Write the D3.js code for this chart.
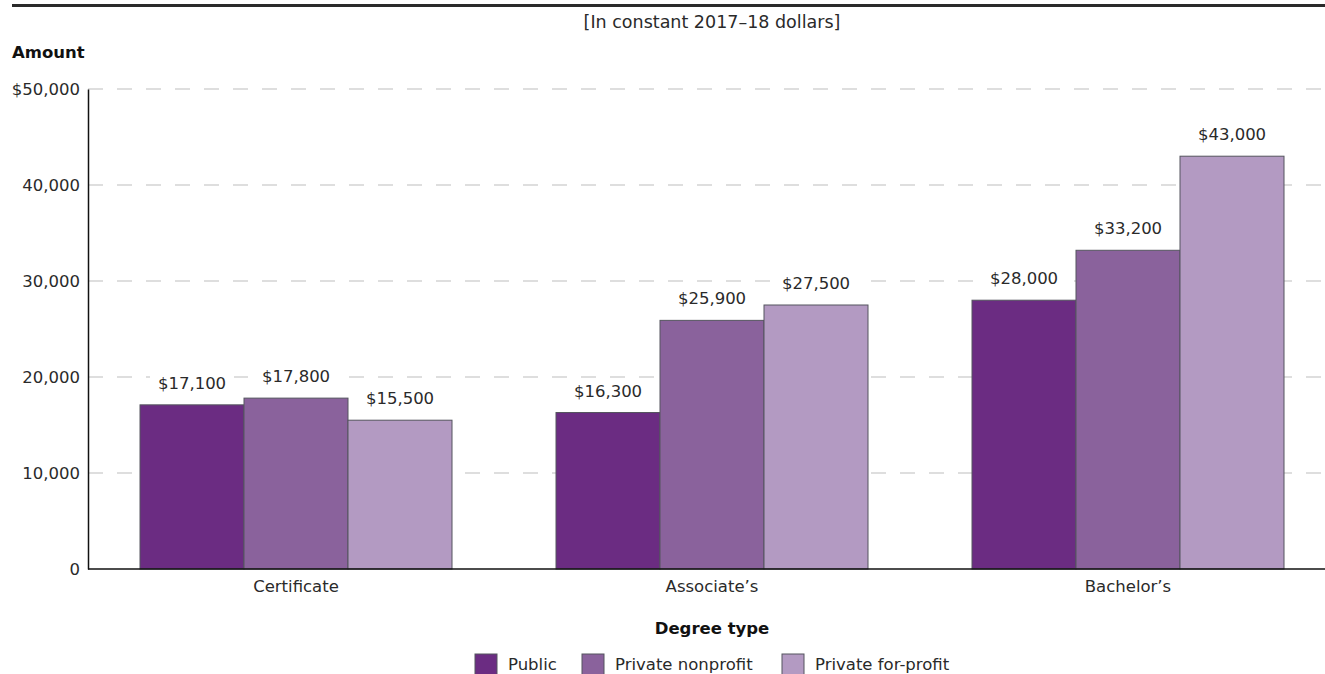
<!DOCTYPE html>
<html>
<head>
<meta charset="utf-8">
<script src="https://cdn.jsdelivr.net/npm/d3@7"></script>
<style>
  body { margin: 0; background: #fff; }
  svg { display: block; font-family: "DejaVu Sans", sans-serif; }
</style>
</head>
<body>
<svg id="chart"></svg>
<script>
// Chart data
const degreeTypes = ["Certificate", "Associate\u2019s", "Bachelor\u2019s"];
const sectors = ["Public", "Private nonprofit", "Private for-profit"];
const publicValues = [17100, 16300, 28000];
const nonprofitValues = [17800, 25900, 33200];
const forprofitValues = [15500, 27500, 43000];
const yTicks = [0, 10000, 20000, 30000, 40000, 50000];

const width = 1325, height = 674;
const colors = ["#6b2c82", "#8a629c", "#b39ac2"];
const textColor = "#2a2a2a";
const fontSize = 16.5;

const svg = d3.select("#chart")
    .attr("width", width)
    .attr("height", height);

// Plot area
const plotLeft = 88, plotBottom = 569, plotTop = 89;

const x = d3.scaleBand()
    .domain(degreeTypes)
    .range([plotLeft, plotLeft + 3 * 416])
    .paddingInner(0.25)
    .paddingOuter(0.125);

const xSub = d3.scaleBand()
    .domain(sectors)
    .range([0, x.bandwidth()]);

const y = d3.scaleLinear()
    .domain([0, 50000])
    .range([plotBottom, plotTop]);

// build a table of rows for the bars
const seriesValues = [publicValues, nonprofitValues, forprofitValues];
const rows = [];
degreeTypes.forEach((d, i) => {
    sectors.forEach((s, j) => {
        rows.push({ degree: d, sector: s, value: seriesValues[j][i], idx: j });
    });
});

// Top rule and subtitle
svg.append("line")
    .attr("x1", 12).attr("x2", width)
    .attr("y1", 5.5).attr("y2", 5.5)
    .attr("stroke", "#2a2a2a")
    .attr("stroke-width", 3);

svg.append("text")
    .attr("x", 712).attr("y", 28)
    .attr("text-anchor", "middle")
    .attr("font-size", 17.5)
    .attr("fill", textColor)
    .text("[In constant 2017\u201318 dollars]");

svg.append("text")
    .attr("x", 12).attr("y", 58)
    .attr("font-size", fontSize)
    .attr("font-weight", "bold")
    .attr("fill", "#111")
    .text("Amount");

// Gridlines (dashed)
svg.append("g")
    .selectAll("line")
    .data(yTicks.filter(t => t > 0))
    .enter().append("line")
    .attr("x1", plotLeft).attr("x2", width)
    .attr("y1", d => y(d)).attr("y2", d => y(d))
    .attr("stroke", "#bdbdbd")
    .attr("stroke-width", 1)
    .attr("stroke-dasharray", "15,14");

// Y axis
const yAxis = svg.append("g")
    .attr("transform", `translate(${plotLeft},0)`)
    .call(d3.axisLeft(y)
        .tickValues(yTicks)
        .tickSize(0)
        .tickPadding(8)
        .tickFormat(d => d === 50000 ? "$" + d3.format(",")(d) : d3.format(",")(d)));
yAxis.select(".domain").attr("stroke", "#111").attr("stroke-width", 1.5);
yAxis.selectAll("text")
    .attr("font-size", fontSize)
    .attr("fill", textColor)
    .attr("font-family", "DejaVu Sans, sans-serif");

// Bars
svg.append("g")
    .selectAll("rect")
    .data(rows)
    .enter().append("rect")
    .attr("x", d => x(d.degree) + xSub(d.sector))
    .attr("y", d => y(d.value))
    .attr("width", xSub.bandwidth())
    .attr("height", d => plotBottom - y(d.value))
    .attr("fill", d => colors[d.idx])
    .attr("stroke", "#55555f")
    .attr("stroke-width", 1);

// Value labels with white backing
const labels = svg.append("g")
    .selectAll("g")
    .data(rows)
    .enter().append("g")
    .attr("transform", d => `translate(${x(d.degree) + xSub(d.sector) + xSub.bandwidth() / 2},${y(d.value) - 16})`);

labels.append("rect")
    .attr("x", -42).attr("y", -16)
    .attr("width", 84).attr("height", 20)
    .attr("fill", "#fff");

labels.append("text")
    .attr("text-anchor", "middle")
    .attr("font-size", fontSize)
    .attr("fill", textColor)
    .text(d => "$" + d3.format(",")(d.value));

// X axis
svg.append("line")
    .attr("x1", plotLeft).attr("x2", width)
    .attr("y1", plotBottom).attr("y2", plotBottom)
    .attr("stroke", "#111")
    .attr("stroke-width", 1.5);

const xAxis = svg.append("g")
    .attr("transform", `translate(0,${plotBottom})`)
    .call(d3.axisBottom(x).tickSize(0).tickPadding(11));
xAxis.select(".domain").remove();
xAxis.selectAll("text")
    .attr("font-size", fontSize)
    .attr("fill", textColor)
    .attr("font-family", "DejaVu Sans, sans-serif");

svg.append("text")
    .attr("x", 712).attr("y", 634)
    .attr("text-anchor", "middle")
    .attr("font-size", fontSize)
    .attr("font-weight", "bold")
    .attr("fill", "#111")
    .text("Degree type");

// Legend
const legendX = [475, 582, 782];
const legend = svg.append("g")
    .selectAll("g")
    .data(sectors)
    .enter().append("g")
    .attr("transform", (d, i) => `translate(${legendX[i]},654)`);

legend.append("rect")
    .attr("width", 22).attr("height", 22)
    .attr("fill", (d, i) => colors[i])
    .attr("stroke", "#55555f")
    .attr("stroke-width", 1);

legend.append("text")
    .attr("x", 33).attr("y", 16)
    .attr("font-size", fontSize)
    .attr("fill", textColor)
    .text(d => d);
</script>
</body>
</html>
